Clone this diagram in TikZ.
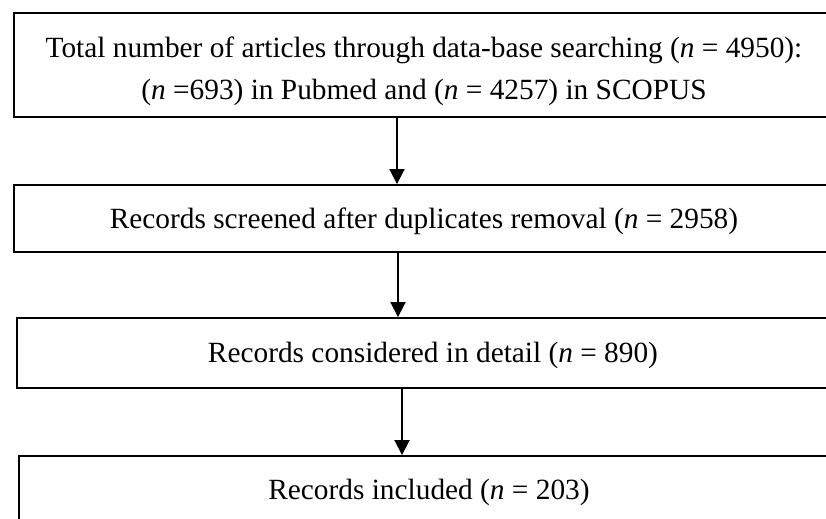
\documentclass[tikz,border=0pt]{standalone}
\usepackage{fontspec}
\setmainfont{Liberation Serif}
\usetikzlibrary{arrows.meta}

\tikzset{
    stepbox/.style={draw, line width=1.1pt, minimum height=#1, inner sep=0pt,
        align=center, font=\fontsize{16.7}{24}\selectfont},
    oneline/.style={text height=0.5cm, text depth=0.12cm},
    flowarrow/.style={-{Triangle[length=0.3cm,width=0.3cm]}, line width=1.1pt}
}

\begin{document}
\begin{tikzpicture}[x=0.02cm,y=-0.02cm]
        \useasboundingbox (0,0) rectangle (826,518);
        \clip (0,0) rectangle (826,518);

        % Draw boxes (cut off at the right edge)
        \node[stepbox=2.08cm, minimum width=16.4cm] (total) at (424,65)
            {\rule{0pt}{0.65cm}Total number of articles through data-base searching (\textit{n} = 4950):\\
             (\textit{n} =693) in Pubmed and (\textit{n} = 4257) in SCOPUS};
        \node[stepbox=1.34cm, oneline, minimum width=16.4cm] (screened) at (424,218.5)
            {Records screened after duplicates removal (\textit{n} = 2958)};
        \node[stepbox=1.4cm, oneline, minimum width=16.64cm] (detail) at (433,353)
            {Records considered in detail (\textit{n} = 890)};
        \node[stepbox=1.36cm, oneline, minimum width=16.4cm] (included) at (429,490)
            {Records included (\textit{n} = 203)};

        % Draw arrows
        \draw[flowarrow] ([xshift=-0.54cm]total.south) -- ([xshift=-0.54cm]total.south |- screened.north);
        \draw[flowarrow] ([xshift=-0.52cm]screened.south) -- ([xshift=-0.52cm]screened.south |- detail.north);
        \draw[flowarrow] ([xshift=-0.62cm]detail.south) -- ([xshift=-0.62cm]detail.south |- included.north);
    \end{tikzpicture}
\end{document}
